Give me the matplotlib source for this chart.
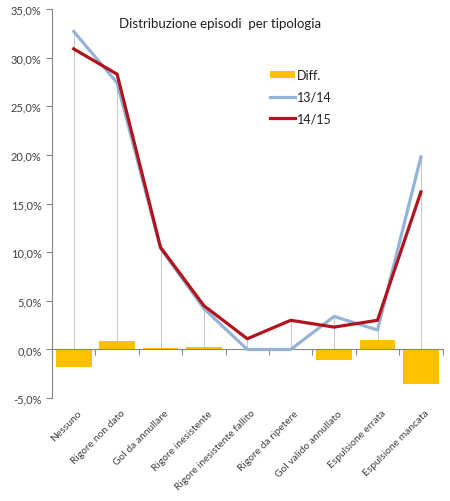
import matplotlib.pyplot as plt
import matplotlib.transforms as mtransforms
from matplotlib.ticker import FuncFormatter
import numpy as np

plt.rcParams['font.family'] = ['Lato', 'DejaVu Sans']

categorie = ['Nessuno', 'Rigore non dato', 'Gol da annullare', 'Rigore inesistente',
             'Rigore inesistente fallito', 'Rigore da ripetere', 'Gol valido annullato',
             'Espulsione errata', 'Espulsione mancata']
stagione_1314 = [32.7, 27.4, 10.4, 4.2, 0.0, 0.0, 3.4, 2.0, 19.8]
stagione_1415 = [30.9, 28.3, 10.5, 4.5, 1.1, 3.0, 2.3, 3.0, 16.2]
diff = [-1.8, 0.9, 0.2, 0.3, 0.0, 0.0, -1.1, 1.0, -3.6]

fig = plt.figure(figsize=(4.5, 5.02), dpi=100)
ax = fig.add_axes([0.1156, 0.205, 0.868, 0.775])

x = np.arange(len(categorie))
grey = '#868686'

# drop lines
for i in x:
    top = max(stagione_1314[i], stagione_1415[i])
    ax.plot([i, i], [0, top], color='#C8C8C8', lw=0.8, zorder=1)

b = ax.bar(x, diff, width=0.82, color='#FFC000', label='Diff.', zorder=2)
l1, = ax.plot(x, stagione_1314, color='#95B3D7', lw=2.3, label='13/14', zorder=3)
l2, = ax.plot(x, stagione_1415, color='#B0141C', lw=2.3, label='14/15', zorder=4)

ax.set_xlim(-0.5, len(categorie) - 0.5)
ax.set_ylim(-5, 35)
ax.set_yticks(np.arange(-5, 36, 5))
ax.yaxis.set_major_formatter(FuncFormatter(lambda v, p: ('%.1f%%' % v).replace('.', ',')))
ax.tick_params(axis='y', labelsize=8, colors=grey, labelcolor='#404040', length=4, width=0.8)

ax.spines['top'].set_visible(False)
ax.spines['right'].set_visible(False)
ax.spines['left'].set_color(grey)
ax.spines['bottom'].set_color(grey)
ax.spines['bottom'].set_position(('data', 0))
ax.set_xticks(np.arange(-0.5, len(categorie), 1))
ax.set_xticklabels([])
ax.tick_params(axis='x', length=4, width=0.8, colors=grey)

# category labels below the plot
trans = mtransforms.blended_transform_factory(ax.transData, ax.transAxes)
for i, nome in enumerate(categorie):
    ax.text(i + 0.08, -0.026, nome, transform=trans, rotation=45, rotation_mode='anchor',
            ha='right', va='top', fontsize=7.4, color='#404040')

ax.text(0.43, 0.964, 'Distribuzione episodi  per tipologia', transform=ax.transAxes,
        ha='center', va='center', fontsize=9.5, color='#202020')

leg = ax.legend(handles=[b, l1, l2], loc='upper left', bbox_to_anchor=(0.53, 0.874),
                frameon=False, fontsize=9, handlelength=2.0, handleheight=0.5,
                handletextpad=0.1, labelspacing=0.75)
for t in leg.get_texts():
    t.set_color('#202020')

fig.savefig('out.png', dpi=100)
